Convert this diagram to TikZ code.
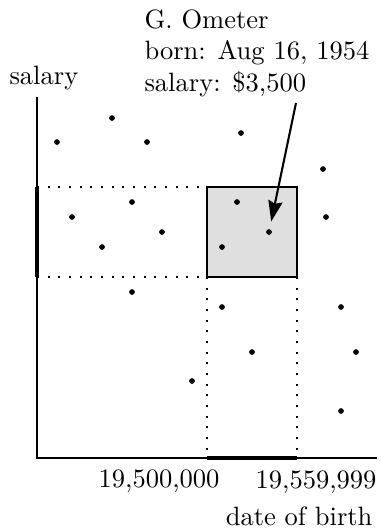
\documentclass[tikz,border=0pt]{standalone}
\usetikzlibrary{arrows.meta}
\begin{document}
\begin{tikzpicture}[x=0.384615pt,y=-0.384615pt,
  dot/.style={circle,fill=black,inner sep=0pt,minimum size=2.2pt},
  axisline/.style={line width=0.8pt},
  rangebar/.style={line width=1.9pt},
  guide/.style={line width=0.8pt,dash pattern=on 0.8pt off 3.3pt},
  selbox/.style={draw=black,fill=gray!25,line width=0.85pt},
  lbl/.style={inner sep=0pt,font=\fontsize{10.2}{12.1}\selectfont},
  pointer/.style={line width=0.8pt,-{Stealth[length=8pt,width=5.5pt,inset=1pt]},shorten >=2.8pt}]
\useasboundingbox (0,0) rectangle (381,528);
% key coordinates
\coordinate (origin) at (37,458);
\coordinate (ytop) at (37,97);
\coordinate (xend) at (377,458);
\coordinate (boxNW) at (207,187);
\coordinate (boxSE) at (297,277);
\coordinate (yhi) at (37,187);
\coordinate (ylo) at (37,277);
\coordinate (xlo) at (207,458);
\coordinate (xhi) at (297,458);
\coordinate (boxSW) at (207,277);
\coordinate (arrowstart) at (296,103);
% guides
\draw[guide] (yhi) -- (boxNW);
\draw[guide] (ylo) -- (boxSW);
\draw[guide] (boxSW) -- (xlo);
\draw[guide] (boxSE) -- (xhi);
% selection box
\draw[selbox] (boxNW) rectangle (boxSE);
% axes
\draw[axisline] (ytop) -- (origin) -- (xend);
\draw[rangebar] (yhi) -- (ylo);
\draw[rangebar] (xlo) -- (xhi);
% dots
\node[dot] (d1) at (57,142) {};
\node[dot] (d2) at (112,118) {};
\node[dot] (d3) at (147,142) {};
\node[dot] (d4) at (241,133) {};
\node[dot] (d5) at (323,169) {};
\node[dot] (d6) at (132,202) {};
\node[dot] (d7) at (72,217) {};
\node[dot] (d8) at (162,232) {};
\node[dot] (d9) at (102,247) {};
\node[dot] (d10) at (237,202) {};
\node[dot] (gometer) at (269,232) {};
\node[dot] (d12) at (222,247) {};
\node[dot] (d13) at (326,217) {};
\node[dot] (d14) at (132,292) {};
\node[dot] (d15) at (222,307) {};
\node[dot] (d16) at (341,307) {};
\node[dot] (d17) at (252,352) {};
\node[dot] (d18) at (356,352) {};
\node[dot] (d19) at (192,381) {};
\node[dot] (d20) at (341,411) {};
% labels
\node[lbl,anchor=base west] (ylabel) at (9,84) {salary};
\node[lbl,anchor=base east] (xlabel) at (373,525) {date of birth};
\node[lbl,anchor=base east] (tlo) at (220,487) {19,500,000};
\node[lbl,anchor=base east] (thi) at (377,488) {19,559,999};
\node[lbl,anchor=north west,align=left] (info) at (144,9) {G. Ometer\\born: Aug 16, 1954\\salary: \$3,500};
% pointer
\draw[pointer] (arrowstart) -- (gometer);
\end{tikzpicture}
\end{document}
